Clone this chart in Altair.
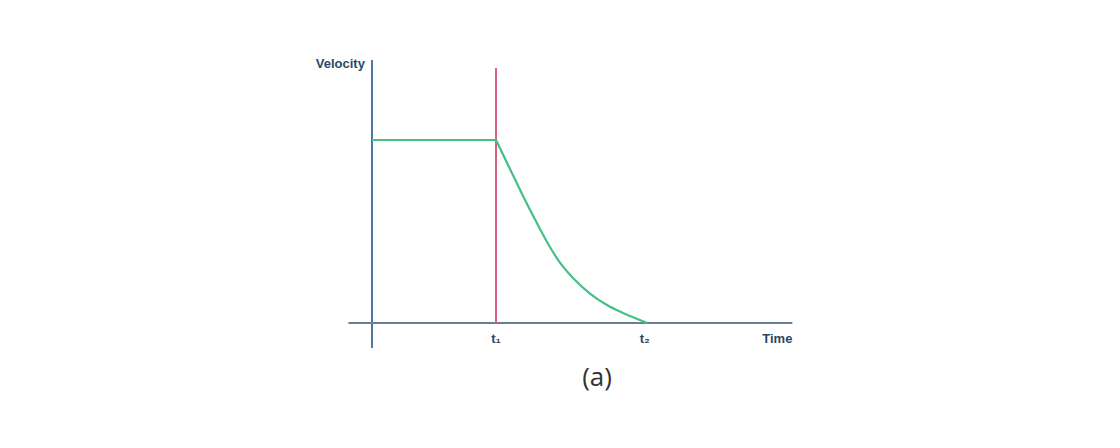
import altair as alt
import pandas as pd

# Velocity profile (time in units of t1, velocity normalised)
flat_t = [0.0, 1.0]
flat_v = [1.0, 1.0]
decay_t = [1.0, 1.113, 1.218, 1.355, 1.435, 1.516, 1.621, 1.758, 1.895, 2.024, 2.161, 2.218]
decay_v = [1.0, 0.842, 0.694, 0.514, 0.415, 0.330, 0.246, 0.161, 0.098, 0.055, 0.016, 0.0]
t1 = 1.0
t2 = 2.2
tick_labels = ["t₁", "t₂"]
x_title = "Time"
y_title = "Velocity"
caption = "(a)"

W, H = 1100, 425
XMIN, XMAX = -2.9355, 5.9355
YMIN, YMAX = -0.6011, 1.7213

xs = alt.Scale(domain=[XMIN, XMAX], nice=False, zero=False)
ys = alt.Scale(domain=[YMIN, YMAX], nice=False, zero=False)

flat = pd.DataFrame({"t": flat_t, "v": flat_v})
dec = pd.DataFrame({"t": decay_t, "v": decay_v})

axis_color_y = "#4f77a3"
axis_color_x = "#6a7f96"
text_color = "#2b4766"
green = "#45c085"

flat_line = alt.Chart(flat).mark_line(color=green, strokeWidth=2.2).encode(
    x=alt.X("t:Q", scale=xs, axis=None), y=alt.Y("v:Q", scale=ys, axis=None))
dec_line = alt.Chart(dec).mark_line(color=green, strokeWidth=2.2, interpolate="monotone").encode(
    x=alt.X("t:Q", scale=xs, axis=None), y=alt.Y("v:Q", scale=ys, axis=None))

yaxis = alt.Chart(pd.DataFrame({"x": [0.0], "y": [-0.137], "y2": [1.437]})).mark_rule(
    color=axis_color_y, strokeWidth=2).encode(
    x=alt.X("x:Q", scale=xs, axis=None), y=alt.Y("y:Q", scale=ys, axis=None), y2="y2:Q")
xaxis = alt.Chart(pd.DataFrame({"y": [0.0], "x": [-0.19], "x2": [3.39]})).mark_rule(
    color=axis_color_x, strokeWidth=2).encode(
    y=alt.Y("y:Q", scale=ys, axis=None), x=alt.X("x:Q", scale=xs, axis=None), x2="x2:Q")
redline = alt.Chart(pd.DataFrame({"x": [t1], "y": [0.0], "y2": [1.393]})).mark_rule(
    color="#d5627f", strokeWidth=2).encode(
    x=alt.X("x:Q", scale=xs, axis=None), y=alt.Y("y:Q", scale=ys, axis=None), y2="y2:Q")

ticks = pd.DataFrame({"x": [t1, t2], "y": [-0.087, -0.087], "label": tick_labels})
tick_text = alt.Chart(ticks).mark_text(font="Liberation Sans", fontWeight="bold", fontSize=13,
                                      color=text_color).encode(
    x=alt.X("x:Q", scale=xs, axis=None), y=alt.Y("y:Q", scale=ys, axis=None), text="label:N")

xt = alt.Chart(pd.DataFrame({"x": [3.39], "y": [-0.087], "label": [x_title]})).mark_text(
    font="Liberation Sans", fontWeight="bold", fontSize=13, color=text_color, align="right").encode(
    x=alt.X("x:Q", scale=xs, axis=None), y=alt.Y("y:Q", scale=ys, axis=None), text="label:N")
yt = alt.Chart(pd.DataFrame({"x": [-0.057], "y": [1.415], "label": [y_title]})).mark_text(
    font="Liberation Sans", fontWeight="bold", fontSize=13, color=text_color, align="right").encode(
    x=alt.X("x:Q", scale=xs, axis=None), y=alt.Y("y:Q", scale=ys, axis=None), text="label:N")
cap = alt.Chart(pd.DataFrame({"x": [1.815], "y": [-0.3], "label": [caption]})).mark_text(
    font="Open Sans", fontSize=26, color="#333333").encode(
    x=alt.X("x:Q", scale=xs, axis=None), y=alt.Y("y:Q", scale=ys, axis=None), text="label:N")

chart = alt.layer(yaxis, xaxis, redline, flat_line, dec_line, tick_text, xt, yt, cap).properties(
    width=W, height=H, padding=0, background="white",
    autosize=alt.AutoSizeParams(type="none")
).configure_view(stroke=None)

chart.save("out.html", embed_options={"renderer": "svg", "actions": False})
